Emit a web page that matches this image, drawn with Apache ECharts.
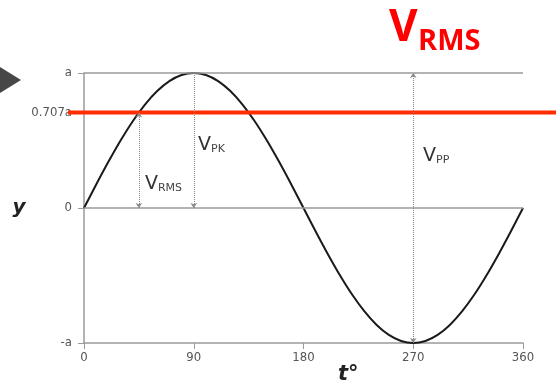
<!DOCTYPE html>
<html>
<head>
<meta charset="utf-8">
<script src="https://cdn.jsdelivr.net/npm/echarts@6/dist/echarts.min.js"></script>
<style>
  html, body { margin: 0; padding: 0; background: #fff; }
  #chart { width: 556px; height: 387px; }
</style>
</head>
<body>
<div id="chart"></div>
<script>
  // sine curve, every 10 degrees (a = 1)
  var degrees = [0, 10, 20, 30, 40, 50, 60, 70, 80, 90, 100, 110, 120, 130, 140, 150, 160, 170, 180,
    190, 200, 210, 220, 230, 240, 250, 260, 270, 280, 290, 300, 310, 320, 330, 340, 350, 360];
  var wave = [0, 0.174, 0.342, 0.5, 0.643, 0.766, 0.866, 0.94, 0.985, 1,
    0.985, 0.94, 0.866, 0.766, 0.643, 0.5, 0.342, 0.174, 0,
    -0.174, -0.342, -0.5, -0.643, -0.766, -0.866, -0.94, -0.985, -1,
    -0.985, -0.94, -0.866, -0.766, -0.643, -0.5, -0.342, -0.174, 0];
  var yTicks = [-1, 0, 0.707, 1];
  var yTickLabels = ['-a', '0', '0.707a', 'a'];
  var rmsLevel = 0.707;

  var grey = '#9a9a9a';
  var dotted = { type: 'dotted', color: '#888', width: 1 };

  var chart = echarts.init(document.getElementById('chart'));
  chart.setOption({
    animation: false,
    grid: [
      { left: 84, right: 33, top: 73, bottom: 44 },
      { left: 68, right: 0, top: 73, bottom: 44 }
    ],
    xAxis: [
      {
        type: 'value', min: 0, max: 360, interval: 90,
        axisLine: { onZero: false, lineStyle: { color: grey, width: 1.5 } },
        axisTick: { length: 6, lineStyle: { color: grey } },
        axisLabel: { color: '#555', fontSize: 13, margin: 8, fontFamily: 'DejaVu Sans Condensed' },
        splitLine: { show: false }
      },
      { type: 'value', gridIndex: 1, min: 0, max: 1, show: false }
    ],
    yAxis: [
      {
        type: 'value', min: -1, max: 1,
        name: 'y', nameLocation: 'middle', nameGap: 38, nameRotate: 0,
        nameTextStyle: { fontSize: 20, fontWeight: 'bold', fontStyle: 'italic', color: '#222', fontFamily: 'DejaVu Sans' },
        axisLine: { show: true, lineStyle: { color: grey, width: 1.5 } },
        axisTick: { show: true, length: 6, customValues: yTicks, lineStyle: { color: grey } },
        axisLabel: {
          customValues: yTicks, color: '#555', fontSize: 13, margin: 12,
          fontFamily: 'DejaVu Sans Condensed',
          formatter: function (v) {
            var i = yTicks.indexOf(v);
            return i >= 0 ? yTickLabels[i] : '';
          }
        },
        splitLine: { show: false }
      },
      { type: 'value', gridIndex: 1, min: -1, max: 1, show: false }
    ],
    series: [
      {
        type: 'line',
        data: degrees.map(function (d, i) { return [d, wave[i]]; }),
        smooth: 0.3,
        showSymbol: false,
        lineStyle: { color: '#1a1a1a', width: 2 },
        z: 3,
        markLine: {
          silent: true,
          symbol: 'none',
          label: { show: false },
          data: [
            { yAxis: 1, lineStyle: { color: grey, width: 1.5, type: 'solid' } },
            { yAxis: 0, lineStyle: { color: grey, width: 1.5, type: 'solid' } },
            [{ coord: [45, 0], symbol: 'arrow', symbolSize: 5, lineStyle: dotted },
             { coord: [45, rmsLevel], symbol: 'arrow', symbolSize: 5 }],
            [{ coord: [90, 0], symbol: 'arrow', symbolSize: 5, lineStyle: dotted },
             { coord: [90, 1], symbol: 'none' }],
            [{ coord: [270, -1], symbol: 'arrow', symbolSize: 5, lineStyle: dotted },
             { coord: [270, 1], symbol: 'arrow', symbolSize: 5 }]
          ]
        },
        markPoint: {
          silent: true,
          symbolSize: 0,
          label: {
            show: true, position: 'right', distance: 0,
            rich: {
              v: { fontSize: 19, lineHeight: 20, color: '#333', verticalAlign: 'bottom', fontFamily: 'DejaVu Sans' },
              s: { fontSize: 11, lineHeight: 16, color: '#444', verticalAlign: 'bottom', fontFamily: 'DejaVu Sans' }
            }
          },
          data: [
            { coord: [50, 0.18], label: { formatter: '{v|V}{s|RMS}' } },
            { coord: [93.5, 0.47], label: { formatter: '{v|V}{s|PK}' } },
            { coord: [278, 0.39], label: { formatter: '{v|V}{s|PP}' } }
          ]
        }
      },
      {
        type: 'line',
        xAxisIndex: 1, yAxisIndex: 1,
        data: [[0, rmsLevel], [1, rmsLevel]],
        showSymbol: false,
        lineStyle: { color: '#ff2d00', width: 4 },
        z: 4
      }
    ],
    graphic: [
      { type: 'polygon', shape: { points: [[0, 67], [21, 80], [0, 93]] }, style: { fill: '#474747' } },
      { type: 'text', left: 338, top: 364, style: { text: 't°', fontSize: 21, fontStyle: 'italic', fontWeight: 'bold', fill: '#222', fontFamily: 'DejaVu Sans' } },
      { type: 'text', left: 389, top: 6, style: { text: 'V', fontSize: 44, fontWeight: 'bold', fill: '#ff0000', fontFamily: 'Open Sans' } },
      { type: 'text', left: 418, top: 27, style: { text: 'RMS', fontSize: 29, fontWeight: 'bold', fill: '#ff0000', fontFamily: 'Open Sans' } }
    ]
  });
</script>
</body>
</html>
